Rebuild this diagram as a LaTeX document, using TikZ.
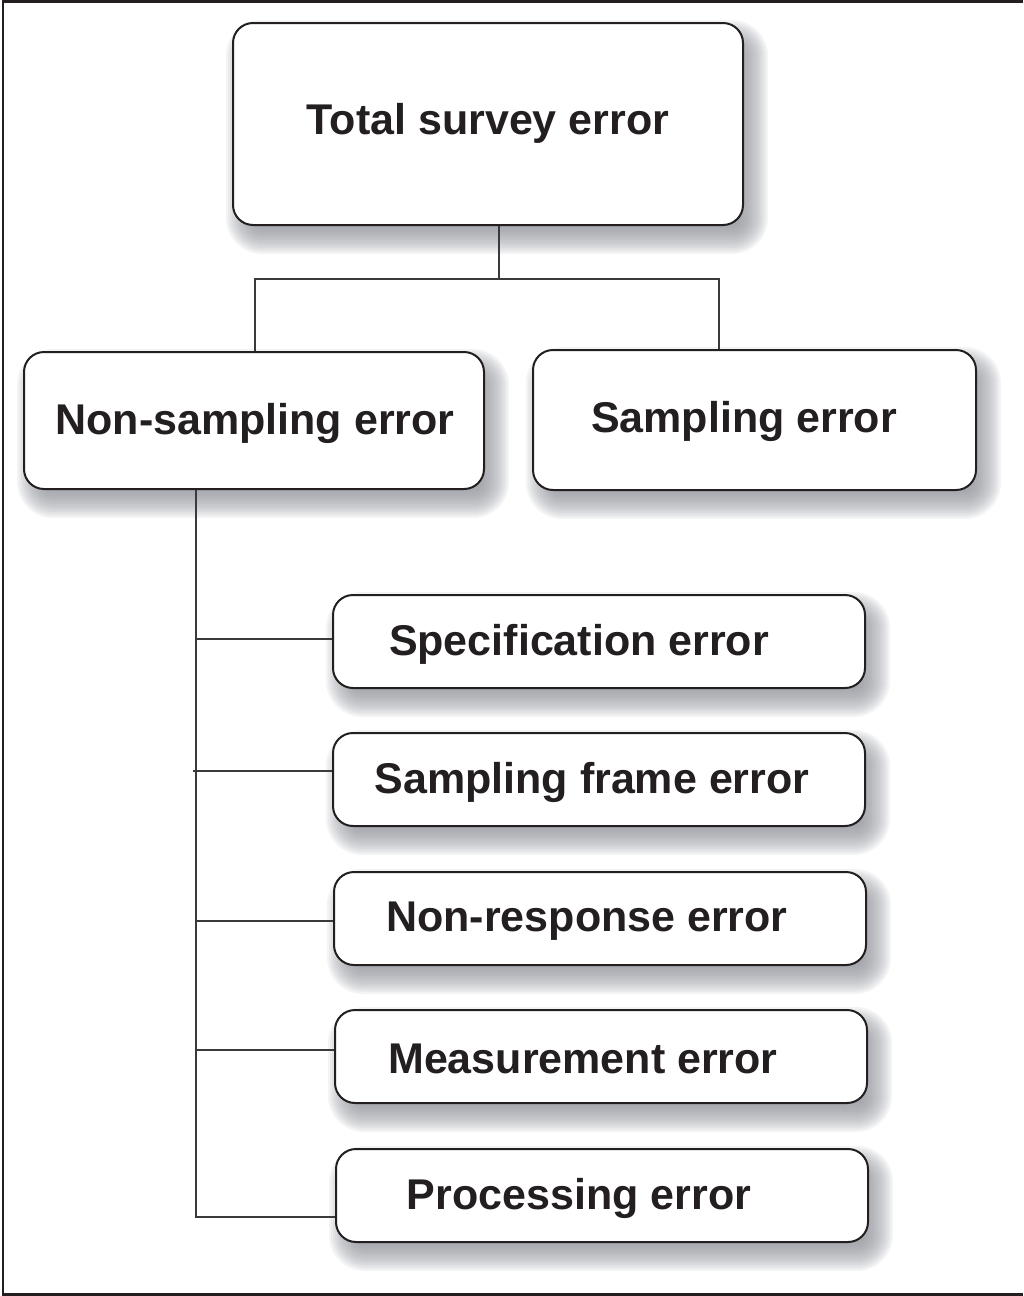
\documentclass[tikz,border=0pt]{standalone}
\usepackage{fontspec}
\setmainfont{Liberation Sans}
\usetikzlibrary{fit}

\definecolor{ink}{HTML}{231F20}
\definecolor{linecol}{HTML}{3A3A3C}
\definecolor{shadowcol}{RGB}{140,143,151}

\tikzset{
  errbox/.style={draw=ink, line width=2pt, rounded corners=20pt, fill=white, inner sep=0pt},
  errtext/.style={font=\bfseries\fontsize{43}{50}\selectfont, text=ink, inner sep=0pt, anchor=center},
  conn/.style={draw=linecol, line width=1.8pt},
}

% soft shadow behind a box given by its corners, then the box itself
\newcommand\errbox[5]{%
  \foreach \e in {-12,-10,...,16}{%
    \pgfmathsetmacro\rr{max(20+\e,1)}%
    \fill[shadowcol, fill opacity=0.095, rounded corners=\rr pt]
      ({#2+9-\e},{#3+13-\e}) rectangle ({#4+9+\e},{#5+13+\e});
  }%
  \node[errbox, fit={(#2,#3) (#4,#5)}] (#1) {};
}

\begin{document}
\begin{tikzpicture}[x=1pt, y=-1pt]
\useasboundingbox (0,0) rectangle (1023,1296);

% frame
\draw[ink, line width=2.5pt] (1023,1.5) -- (3,1.5) -- (3,1294.5) -- (1023,1294.5);

% boxes
\errbox{total}{233}{23}{743}{225}
\errbox{nonsamp}{24}{352}{484}{489}
\errbox{samp}{533}{350}{976}{490}
\errbox{spec}{333}{595}{865}{688}
\errbox{frame}{333}{733}{865}{826}
\errbox{nonresp}{334}{872}{866}{965}
\errbox{meas}{335}{1010}{867}{1103}
\errbox{proc}{336}{1149}{868}{1242}

% labels
\node[errtext] (total-t)   at (488,123)  {Total survey error};
\node[errtext] (nonsamp-t) at (255,423)  {Non-sampling error};
\node[errtext] (samp-t)    at (744,421)  {Sampling error};
\node[errtext] (spec-t)    at (579,644)  {Specification error};
\node[errtext] (frame-t)   at (592,782)  {Sampling frame error};
\node[errtext] (nonresp-t) at (587,921)  {Non-response error};
\node[errtext] (meas-t)    at (583,1059) {Measurement error};
\node[errtext] (proc-t)    at (579,1198) {Processing error};

% top-level connectors
\coordinate (busM) at (499,279);
\coordinate (busL) at (255,279);
\coordinate (busR) at (719,279);
\draw[conn] (total.south -| busM) -- (busM);
\draw[conn] (nonsamp.north -| busL) -- (busL) -- (busR) -- (samp.north -| busR);

% trunk below the non-sampling box
\coordinate (trunk) at (196,1218);
\draw[conn] (nonsamp.south -| trunk) -- (trunk);

\coordinate (b1) at (196,639);
\coordinate (b2) at (193,771);
\coordinate (b3) at (196,921);
\coordinate (b4) at (196,1050);
\coordinate (b5) at (196,1217);
\draw[conn] (b1) -- (spec.west |- b1);
\draw[conn] (b2) -- (frame.west |- b2);
\draw[conn] (b3) -- (nonresp.west |- b3);
\draw[conn] (b4) -- (meas.west |- b4);
\draw[conn] (b5) -- (proc.west |- b5);
\end{tikzpicture}
\end{document}
